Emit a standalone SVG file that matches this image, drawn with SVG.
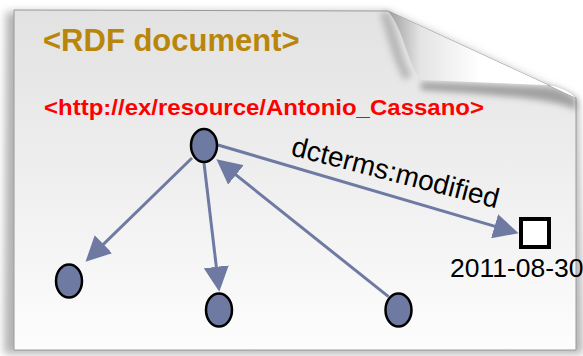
<svg xmlns="http://www.w3.org/2000/svg" width="583" height="356" viewBox="0 0 583 356">
<style>
.edge{stroke:#6f7aa3;stroke-width:3;fill:none;marker-end:url(#arrow)}
.node{fill:#6f7aa3;stroke:#000;stroke-width:2.5}
.lbl{font-family:"Liberation Sans",Arial,sans-serif;fill:#000}
</style>
<defs>
<linearGradient id="pageGrad" x1="0" y1="0" x2="0" y2="1"><stop offset="0" stop-color="#e2e2e2"/><stop offset="0.5" stop-color="#efefef"/><stop offset="1" stop-color="#fdfdfd"/></linearGradient>
<linearGradient id="flapGrad" x1="388" y1="0" x2="480" y2="0" gradientUnits="userSpaceOnUse"><stop offset="0" stop-color="#9c9c9c"/><stop offset="0.35" stop-color="#e4e4e4"/><stop offset="1" stop-color="#ffffff"/></linearGradient>
<filter id="blur" x="-20%" y="-20%" width="140%" height="140%"><feGaussianBlur stdDeviation="4"/></filter>
<filter id="blur2" x="-20%" y="-50%" width="140%" height="200%"><feGaussianBlur stdDeviation="3"/></filter>
<marker id="arrow" viewBox="0 0 25 25" refX="20" refY="12.5" markerWidth="25" markerHeight="25" markerUnits="userSpaceOnUse" orient="auto"><path d="M0,0 L25,12.5 L0,25 Z" fill="#6f7aa3"/></marker>
</defs>
<rect width="583" height="356" fill="#ffffff"/>
<g id="page">
<path d="M6,12 L388,12 L578,100 L583,354 L4,354 Z" fill="#b4b4b4" filter="url(#blur)"/>
<path d="M14,10 L388,11 L576,98 L576,350 L14,350 Z" fill="url(#pageGrad)" stroke="#9a9a9a" stroke-width="1"/>
<path d="M421,82 L548,87 C562,89 570,94 576,99 L576,110 C560,101 520,96 421,90 Z" fill="#7a7a7a" opacity="0.65" filter="url(#blur2)"/>
<path d="M388,11 C398,30 402,60 412,76 L404,80 C392,60 386,30 380,14 Z" fill="#9a9a9a" opacity="0.6" filter="url(#blur2)"/>
<path d="M388,11 L576,98 C568,90 558,86 545,85 L421,80 C408,66 404,30 388,11 Z" fill="url(#flapGrad)"/>
</g>
<text x="43" y="51" font-family="Liberation Sans, Arial, sans-serif" font-weight="bold" font-size="31" fill="#b8860b">&lt;RDF document&gt;</text>
<text x="44" y="115" font-family="Liberation Sans, Arial, sans-serif" font-weight="bold" font-size="22" fill="#ff0000" textLength="440" lengthAdjust="spacingAndGlyphs">&lt;http://ex/resource/Antonio_Cassano&gt;</text>
<g id="connectors">
<line class="edge" x1="192" y1="158" x2="89.1" y2="258.2"/>
<line class="edge" x1="204" y1="163" x2="218.7" y2="286.7"/>
<line class="edge" x1="388.5" y1="296.7" x2="220.3" y2="162.4"/>
<line class="edge" x1="218" y1="145" x2="513.8" y2="231.9"/>
<text class="lbl" font-size="28" transform="translate(290,155) rotate(14.5)">dcterms:modified</text>
</g>
<g id="node-resource"><ellipse class="node" cx="204" cy="145.5" rx="13" ry="16.5"/></g>
<g id="node-left"><ellipse class="node" cx="69" cy="281" rx="13" ry="16.5"/></g>
<g id="node-middle"><ellipse class="node" cx="219" cy="310" rx="13" ry="16.5"/></g>
<g id="node-right"><ellipse class="node" cx="398.5" cy="310" rx="13" ry="16.5"/></g>
<g id="node-literal">
<rect x="521" y="219" width="28" height="28" fill="#ffffff" stroke="#000" stroke-width="4"/>
<text class="lbl" x="450" y="277" font-size="26.5">2011-08-30</text>
</g>
</svg>
